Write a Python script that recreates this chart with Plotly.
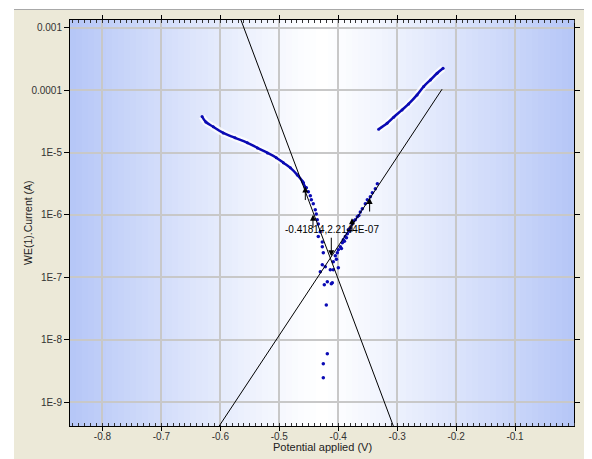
import math
import plotly.graph_objects as go

# ---------------- data ----------------
cath_x = [-0.631, -0.6245, -0.612, -0.595, -0.575, -0.554, -0.537, -0.520,
          -0.505, -0.493, -0.481, -0.4695, -0.461, -0.456]
cath_y = [3.8e-5, 3.1e-5, 2.6e-5, 2.07e-5, 1.73e-5, 1.44e-5, 1.19e-5, 9.9e-6,
          8.3e-6, 6.9e-6, 5.7e-6, 4.4e-6, 3.5e-6, 2.8e-6]

scat_x = [-0.4592, -0.4541, -0.4507, -0.4473, -0.4456, -0.4423, -0.4389, -0.4372,
          -0.4355, -0.4338, -0.4338, -0.4304, -0.4270, -0.4270, -0.4253, -0.4270,
          -0.4219, -0.4134, -0.4083, -0.3998, -0.4304, -0.4185, -0.4100, -0.4236,
          -0.4117, -0.4202, -0.4185, -0.4253, -0.4253]
scat_y = [3.28e-6, 2.73e-6, 2.35e-6, 2.03e-6, 1.75e-6, 1.51e-6, 1.21e-6, 1.04e-6,
          8.4e-7, 7.2e-7, 4.5e-7, 5.4e-7, 3.7e-7, 3.1e-7, 2.48e-7, 1.59e-7,
          1.48e-7, 1.32e-7, 1.32e-7, 1.43e-7, 1.23e-7, 8.5e-8, 8.2e-8, 7.6e-8,
          7.9e-8, 3.6e-8, 5.97e-9, 4.12e-9, 2.46e-9]

anod_x = [-0.4083, -0.4049, -0.4030, -0.4015, -0.3998, -0.3964, -0.3945, -0.3930,
          -0.3913, -0.3895, -0.3879, -0.3860, -0.3845, -0.3829, -0.3810, -0.3795,
          -0.3761, -0.3740, -0.3710, -0.3676, -0.3650, -0.3625, -0.3591, -0.3540,
          -0.3506, -0.3455, -0.3421, -0.3370, -0.3336]
anod_y = [1.78e-7, 2.22e-7, 1.95e-7, 2.48e-7, 2.77e-7, 3.1e-7, 2.9e-7, 3.6e-7,
          4.0e-7, 3.8e-7, 4.5e-7, 4.3e-7, 5.0e-7, 5.8e-7, 5.5e-7, 6.2e-7,
          7.2e-7, 8.0e-7, 8.4e-7, 9.4e-7, 9.8e-7, 1.12e-6, 1.26e-6, 1.51e-6,
          1.75e-6, 1.96e-6, 2.27e-6, 2.63e-6, 3.16e-6]

upper_x = [-0.3314, -0.3171, -0.3059, -0.2917, -0.2805, -0.2662, -0.2550,
           -0.2436, -0.2323, -0.2221]
upper_y = [2.38e-5, 2.97e-5, 3.71e-5, 4.85e-5, 6.05e-5, 8.44e-5, 1.15e-4,
           1.47e-4, 1.88e-4, 2.26e-4]

tafel_c_x = [-0.5650, -0.3065]
tafel_c_y = [1.343e-3, 4.12e-10]
tafel_a_x = [-0.6019, -0.2238]
tafel_a_y = [4.12e-10, 1.042e-4]

up_arrow_x = [-0.4558, -0.4428, -0.3766, -0.3467]
up_arrow_y = [2.86e-6, 1.01e-6, 8.9e-7, 1.87e-6]
cross_x = -0.4117
cross_y = 2.18e-7
cross_label = "-0.41814,2.2144E-07"
label_x = -0.4100
label_y = 5.8e-7

x_ticks = [-0.8, -0.7, -0.6, -0.5, -0.4, -0.3, -0.2, -0.1]
x_tick_text = ["-0.8", "-0.7", "-0.6", "-0.5", "-0.4", "-0.3", "-0.2", "-0.1"]
y_ticks = [1e-3, 1e-4, 1e-5, 1e-6, 1e-7, 1e-8, 1e-9]
y_tick_text = ["0.001", "0.0001", "1E-5", "1E-6", "1E-7", "1E-8", "1E-9"]

x_range = [-0.855, 0.0]
y_range_log = [-9.385, -2.872]

# ---------------- figure ----------------
# the page places the figure 8 px from the top-left corner of the window
W, H = 584, 451
ML, MR, MT, MB = 62, 18, 12, 33
PW, PH = W - ML - MR, H - MT - MB
blue = "#0a0ab4"
font = "Liberation Sans, Arial, sans-serif"

fig = go.Figure()

# white halo under the dense branches
for xs, ys in [(cath_x, cath_y), (upper_x, upper_y)]:
    fig.add_trace(go.Scatter(x=xs, y=ys, mode="lines", line=dict(color="white", width=7, shape="spline"),
                             opacity=0.8, hoverinfo="skip", showlegend=False))

fig.add_trace(go.Scatter(x=cath_x, y=cath_y, mode="lines+markers",
                         line=dict(color=blue, width=2.5, shape="spline"),
                         marker=dict(color=blue, size=3), showlegend=False))
fig.add_trace(go.Scatter(x=upper_x, y=upper_y, mode="lines+markers",
                         line=dict(color=blue, width=2.5, shape="spline"),
                         marker=dict(color=blue, size=3), showlegend=False))
fig.add_trace(go.Scatter(x=scat_x, y=scat_y, mode="markers",
                         marker=dict(color=blue, size=3.5), showlegend=False))
fig.add_trace(go.Scatter(x=anod_x, y=anod_y, mode="markers",
                         marker=dict(color=blue, size=3.5), showlegend=False))

fig.add_trace(go.Scatter(x=tafel_c_x, y=tafel_c_y, mode="lines",
                         line=dict(color="black", width=1), showlegend=False))
fig.add_trace(go.Scatter(x=tafel_a_x, y=tafel_a_y, mode="lines",
                         line=dict(color="black", width=1), showlegend=False))

annotations = []
for ax_, ay_ in zip(up_arrow_x, up_arrow_y):
    annotations.append(dict(x=ax_, y=math.log10(ay_), xref="x", yref="y", text="",
                            showarrow=True, arrowhead=2, arrowsize=1.2, arrowwidth=1,
                            arrowcolor="black", ax=0, ay=15, standoff=0))
annotations.append(dict(x=cross_x, y=math.log10(cross_y), xref="x", yref="y", text="",
                        showarrow=True, arrowhead=2, arrowsize=1.2, arrowwidth=1,
                        arrowcolor="black", ax=0, ay=-20, standoff=0))
annotations.append(dict(x=label_x, y=math.log10(label_y), xref="x", yref="y",
                        text=cross_label, showarrow=False,
                        font=dict(family=font, size=10, color="black")))

# axis titles placed as paper annotations (figure pixel positions converted)
annotations.append(dict(x=(314 - ML) / PW, y=(MT + PH - 439) / PH, xref="paper", yref="paper",
                        xanchor="center", yanchor="middle",
                        text="Potential applied (V)", showarrow=False,
                        font=dict(family=font, size=11, color="#222222")))
annotations.append(dict(x=-(ML - 20) / PW, y=(MT + PH - 215) / PH, xref="paper", yref="paper",
                        xanchor="center", yanchor="middle",
                        text="WE(1).Current (A)", showarrow=False, textangle=-90,
                        font=dict(family=font, size=10.5, color="#222222")))

# background gradient of the plot area (blue edges, white centre)
shapes = []
n = 84
edge = (181, 198, 247)
for i in range(n):
    t = abs((i + 0.5) / n - 0.5) * 2
    t = t ** 1.15
    c = tuple(int(round(255 + (e - 255) * t)) for e in edge)
    shapes.append(dict(type="rect", xref="paper", yref="paper",
                       x0=i / n, x1=(i + 1) / n + 0.002, y0=0, y1=1,
                       fillcolor="rgb(%d,%d,%d)" % c, line=dict(width=0), layer="below"))
# white strip at left of the window and frame line at top
shapes.append(dict(type="rect", xref="paper", yref="paper",
                   x0=-ML / PW, x1=-(ML - 6) / PW,
                   y0=-MB / PH, y1=1 + MT / PH,
                   fillcolor="white", line=dict(width=0), layer="below"))
shapes.append(dict(type="rect", xref="paper", yref="paper",
                   x0=-ML / PW, x1=(W - ML) / PW,
                   y0=1 + (MT - 1) / PH, y1=1 + MT / PH,
                   fillcolor="white", line=dict(width=0), layer="below"))
shapes.append(dict(type="line", xref="paper", yref="paper",
                   x0=-(ML - 6) / PW, x1=(W - ML) / PW,
                   y0=1 + (MT - 1.5) / PH, y1=1 + (MT - 1.5) / PH,
                   line=dict(color="#a8a8a8", width=1), layer="below"))

fig.update_layout(
    width=W, height=H,
    margin=dict(l=ML, r=MR, t=MT, b=MB, autoexpand=False),
    paper_bgcolor="#ECE9D8",
    plot_bgcolor="rgba(0,0,0,0)",
    font=dict(family=font, size=10, color="#333333"),
    showlegend=False,
    annotations=annotations,
    shapes=shapes,
    xaxis=dict(range=x_range, tickvals=x_ticks, ticktext=x_tick_text, automargin=False,
               showgrid=True, gridcolor="#c8c8c8", gridwidth=1.5,
               showline=True, linecolor="black", linewidth=1, mirror="ticks",
               ticks="outside", ticklen=4, tickcolor="black", zeroline=False,
               ticklabelstandoff=-3,
               minor=dict(dtick=0.01, ticks="inside", ticklen=3, tickcolor="#333333", showgrid=False),
               tickfont=dict(size=10, color="#333333")),
    yaxis=dict(type="log", range=y_range_log, tickvals=y_ticks, ticktext=y_tick_text, automargin=False,
               showgrid=True, gridcolor="#c8c8c8", gridwidth=1.5,
               showline=True, linecolor="black", linewidth=1, mirror="ticks",
               ticks="outside", ticklen=5, tickcolor="black", zeroline=False,
               tickfont=dict(size=10, color="#333333")),
)

fig.write_html("out.html")
